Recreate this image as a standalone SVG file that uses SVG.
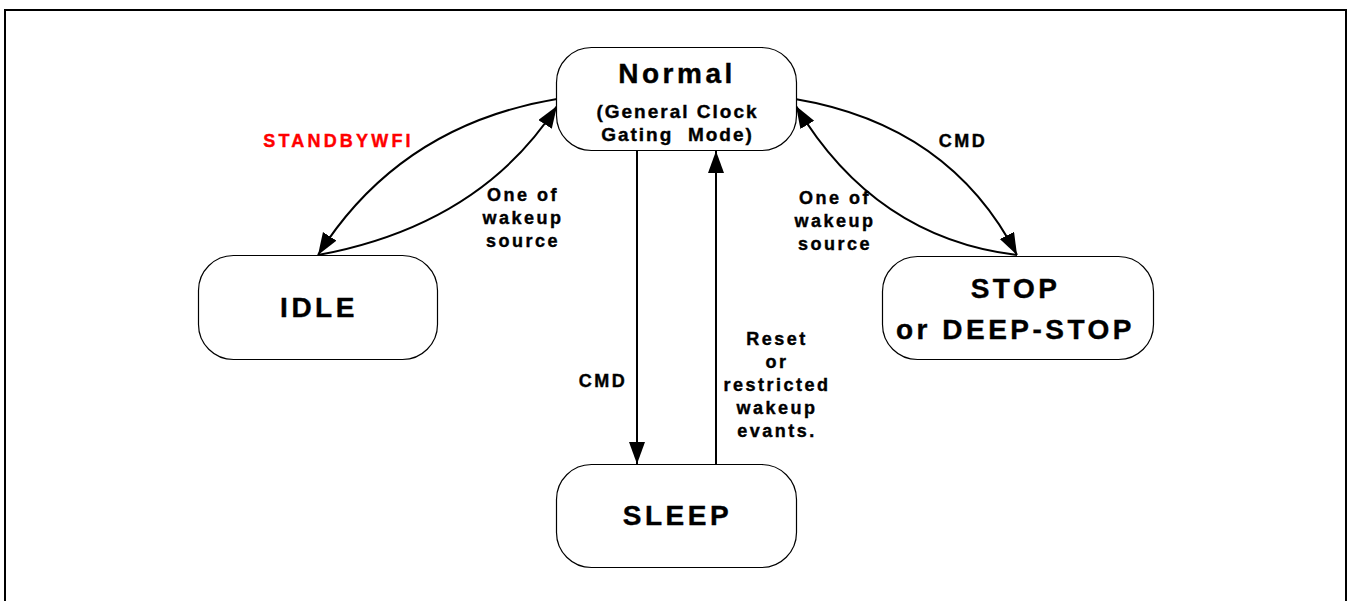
<svg xmlns="http://www.w3.org/2000/svg" width="1354" height="601" viewBox="0 0 1354 601">
<style>
.box{fill:#fff;stroke:#000;stroke-width:1.2}
text{font-family:"Liberation Sans",Arial,sans-serif;font-weight:bold;text-anchor:middle;fill:#000;stroke:#000;stroke-width:0.4px}
.big{font-size:28px;letter-spacing:3.5px}
.mid{font-size:19px;letter-spacing:2px}
.lbl{font-size:18px;letter-spacing:2.5px}
.red{font-size:18px;letter-spacing:3.2px;fill:#ff0000;stroke:#ff0000}
.edge{fill:none;stroke:#000;stroke-width:2;marker-end:url(#ah)}
</style>
<defs>
<marker id="ah" markerUnits="userSpaceOnUse" markerWidth="24" markerHeight="18" refX="22" refY="8" orient="auto">
<path d="M0,0 L22,8 L0,16 z" fill="#000"/>
</marker>
</defs>
<rect width="1354" height="601" fill="#fff"/>
<path d="M5,605 V10 H1346 V605" fill="none" stroke="#000" stroke-width="2"/>

<g id="connectors">
<path class="edge" d="M557,99 Q400,125 318,255"/>
<path class="edge" d="M318,255 Q480,225 557,106"/>
<path class="edge" d="M795,99 Q950,125 1017,255"/>
<path class="edge" d="M1017,255 Q875,238 796,106"/>
<path class="edge" d="M637,151 V464"/>
<path class="edge" d="M716,464 V151"/>
<text class="red" x="338.5" y="147">STANDBYWFI</text>
<text class="lbl" x="523" y="201">One of</text>
<text class="lbl" x="523" y="224">wakeup</text>
<text class="lbl" x="523" y="247">source</text>
<text class="lbl" x="963" y="147">CMD</text>
<text class="lbl" x="835" y="204">One of</text>
<text class="lbl" x="835" y="227">wakeup</text>
<text class="lbl" x="835" y="250">source</text>
<text class="lbl" x="603" y="387">CMD</text>
<text class="lbl" x="777" y="345">Reset</text>
<text class="lbl" x="777" y="368">or</text>
<text class="lbl" x="777" y="391">restricted</text>
<text class="lbl" x="777" y="414">wakeup</text>
<text class="lbl" x="777" y="437">evants.</text>
</g>

<g id="normal">
<rect class="box" x="556.5" y="47.5" width="240" height="103" rx="35" ry="35"/>
<text class="big" x="677" y="83">Normal</text>
<text class="mid" x="677.5" y="118">(General Clock</text>
<text class="mid" x="677.5" y="141" xml:space="preserve">Gating  Mode)</text>
</g>

<g id="idle">
<rect class="box" x="198.5" y="255.5" width="239" height="104" rx="35" ry="35"/>
<text class="big" x="319" y="317">IDLE</text>
</g>

<g id="stop">
<rect class="box" x="882.5" y="256.5" width="271" height="103" rx="35" ry="35"/>
<text class="big" x="1015.5" y="298">STOP</text>
<text class="big" x="1015.5" y="339">or DEEP-STOP</text>
</g>

<g id="sleep">
<rect class="box" x="556.5" y="464.5" width="240" height="103" rx="35" ry="35"/>
<text class="big" x="677.5" y="525">SLEEP</text>
</g>
</svg>
